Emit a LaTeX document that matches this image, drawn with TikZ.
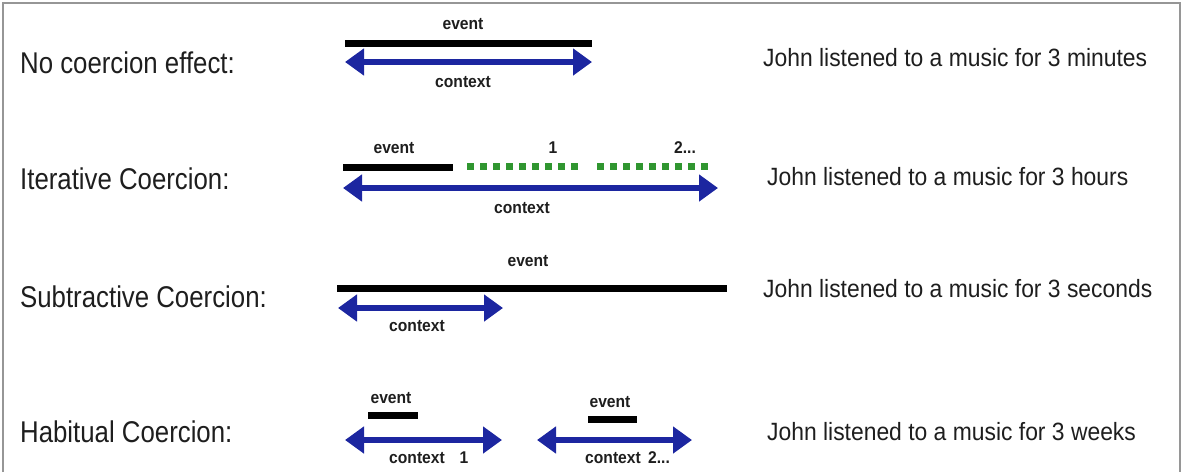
\documentclass[tikz,border=0pt]{standalone}
\usepackage{fontspec}
\setmainfont{Liberation Sans}
\usetikzlibrary{arrows.meta}
\definecolor{ctxblue}{RGB}{28,38,160}
\definecolor{dotgreen}{RGB}{48,150,48}
\definecolor{txt}{RGB}{30,30,30}
\definecolor{frame}{RGB}{150,150,150}
\tikzset{
  rowlabel/.style={anchor=base west, inner sep=0pt, text=txt, font=\fontsize{30}{34}\selectfont, xscale=0.86, transform shape},
  sentence/.style={anchor=base west, inner sep=0pt, text=txt, font=\fontsize{25}{29}\selectfont, xscale=0.915, transform shape},
  small/.style={anchor=base, inner sep=0pt, text=txt, font=\fontsize{17}{20}\selectfont\bfseries, xscale=0.92, transform shape},
  eventbar/.style={line width=7pt, black},
  ctxarrow/.style={line width=6pt, ctxblue, {Triangle[length=19pt,width=26pt]}-{Triangle[length=19pt,width=26pt]}},
  greendot/.style={fill=dotgreen},
}
\begin{document}
\begin{tikzpicture}[x=1pt,y=-1pt]
\useasboundingbox (0,0) rectangle (1183,472);
\draw[frame, line width=2pt] (3,472) -- (3,3) -- (1180,3) -- (1180,472);

% Row labels
\node[rowlabel] (l1) at (20,73) {No coercion effect:};
\node[rowlabel] (l2) at (20,189) {Iterative Coercion:};
\node[rowlabel] (l3) at (20,307) {Subtractive Coercion:};
\node[rowlabel] (l4) at (20,442) {Habitual Coercion:};

% Sentences
\node[sentence] (s1) at (763,66) {John listened to a music for 3 minutes};
\node[sentence] (s2) at (767,185) {John listened to a music for 3 hours};
\node[sentence] (s3) at (763,297) {John listened to a music for 3 seconds};
\node[sentence] (s4) at (767,440) {John listened to a music for 3 weeks};

% Row 1
\coordinate (e1a) at (345,43); \coordinate (e1b) at (592,43);
\draw[eventbar] (e1a) -- (e1b);
\coordinate (c1a) at (345,62); \coordinate (c1b) at (592,62);
\draw[ctxarrow] (c1a) -- (c1b);
\node[small] (ev1) at (463,29) {event};
\node[small] (cx1) at (463,87) {context};

% Row 2
\coordinate (e2a) at (343,167); \coordinate (e2b) at (453,167);
\draw[eventbar] (e2a) -- (e2b);
\foreach \i in {0,...,8} {
  \fill[greendot] ({467+13*\i},163) rectangle ++(6.5,6.5);
  \fill[greendot] ({597+13*\i},163) rectangle ++(6.5,6.5);
}
\coordinate (c2a) at (343,188); \coordinate (c2b) at (718,188);
\draw[ctxarrow] (c2a) -- (c2b);
\node[small] (ev2) at (394,153) {event};
\node[small] (n21) at (553,153) {1};
\node[small] (n22) at (685,153) {2...};
\node[small] (cx2) at (522,213) {context};

% Row 3
\coordinate (e3a) at (337,288); \coordinate (e3b) at (727,288);
\draw[eventbar] (e3a) -- (e3b);
\coordinate (c3a) at (338,308); \coordinate (c3b) at (503,308);
\draw[ctxarrow] (c3a) -- (c3b);
\node[small] (ev3) at (528,266) {event};
\node[small] (cx3) at (417,331) {context};

% Row 4
\coordinate (e4a) at (368,415); \coordinate (e4b) at (418,415);
\draw[eventbar] (e4a) -- (e4b);
\coordinate (c4a) at (345,440); \coordinate (c4b) at (502,440);
\draw[ctxarrow] (c4a) -- (c4b);
\node[small] (ev4) at (391,403) {event};
\node[small] (cx4) at (417,463) {context};
\node[small] (n41) at (464,463) {1};

\coordinate (e5a) at (588,419); \coordinate (e5b) at (637,419);
\draw[eventbar] (e5a) -- (e5b);
\coordinate (c5a) at (537,440); \coordinate (c5b) at (692,440);
\draw[ctxarrow] (c5a) -- (c5b);
\node[small] (ev5) at (610,407) {event};
\node[small] (cx5) at (613,463) {context};
\node[small] (n52) at (659,463) {2...};
\end{tikzpicture}
\end{document}
